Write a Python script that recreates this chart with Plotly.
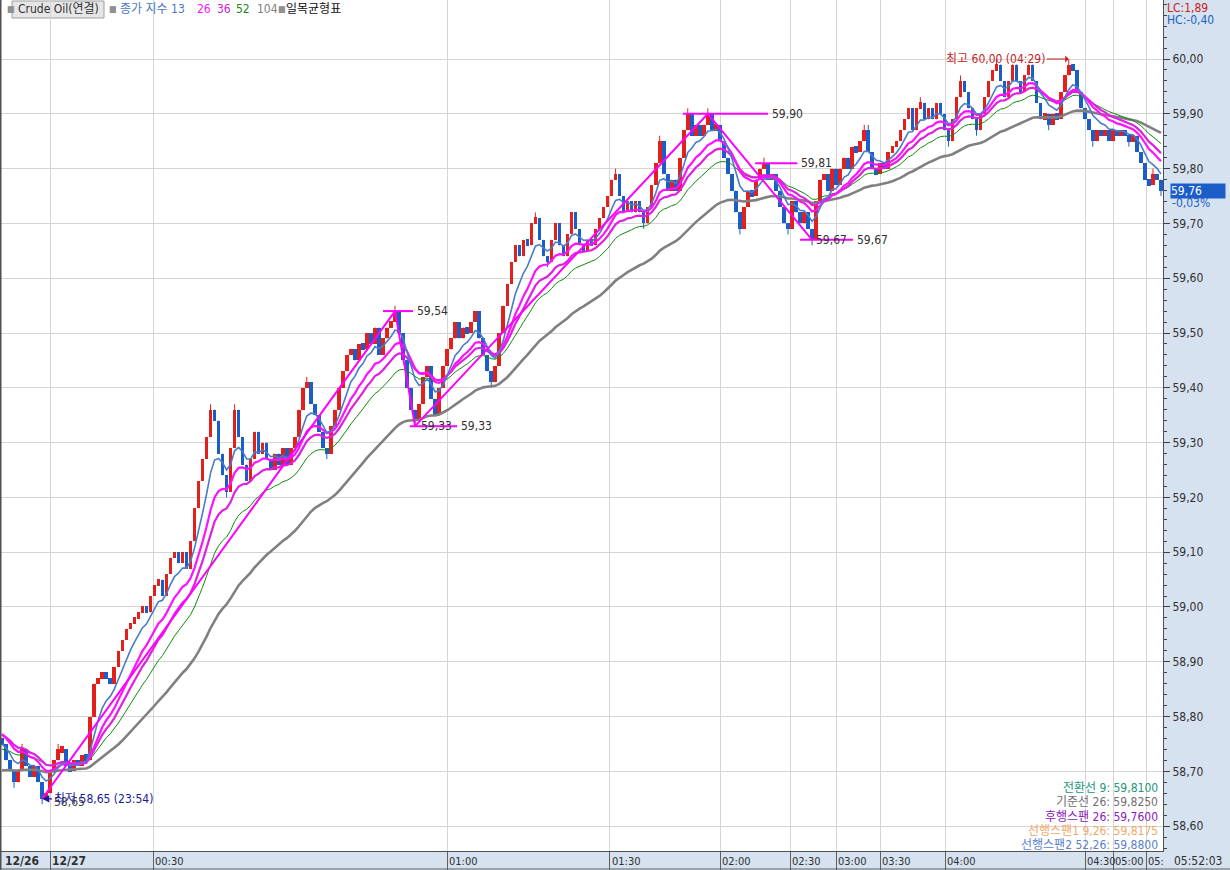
import plotly.graph_objects as go

# ---------------- data ----------------
first_open = 58.76
closes = [
    58.75, 58.72, 58.70, 58.68, 58.70, 58.74, 58.71, 58.69, 58.71, 58.68,
    58.65, 58.66, 58.70, 58.72, 58.74, 58.74, 58.71, 58.70, 58.72, 58.71,
    58.73, 58.72, 58.80, 58.86, 58.87, 58.88, 58.87, 58.86, 58.89, 58.92,
    58.94, 58.96, 58.97, 58.98, 58.99, 59.00, 58.99, 59.02, 59.04, 59.05,
    59.02, 59.06, 59.09, 59.10, 59.08, 59.10, 59.07, 59.12, 59.18, 59.23,
    59.27, 59.31, 59.36, 59.34, 59.28, 59.24, 59.21, 59.29, 59.36, 59.31,
    59.26, 59.23, 59.27, 59.32, 59.28, 59.30, 59.27, 59.25, 59.28, 59.26,
    59.29, 59.26, 59.29, 59.31, 59.36, 59.40, 59.41, 59.37, 59.35, 59.32,
    59.29, 59.28, 59.33, 59.36, 59.40, 59.43, 59.46, 59.47, 59.45, 59.48,
    59.47, 59.50, 59.48, 59.51, 59.46, 59.49, 59.51, 59.52, 59.54, 59.50,
    59.45, 59.40, 59.36, 59.34, 59.37, 59.42, 59.44, 59.38, 59.35, 59.40,
    59.44, 59.47, 59.49, 59.52, 59.49, 59.51, 59.50, 59.52, 59.54, 59.49,
    59.46, 59.43, 59.41, 59.44, 59.50, 59.55, 59.59, 59.63, 59.66, 59.64,
    59.67, 59.66, 59.70, 59.71, 59.67, 59.64, 59.63, 59.67, 59.70, 59.66,
    59.64, 59.68, 59.72, 59.69, 59.66, 59.65, 59.67, 59.66, 59.69, 59.71,
    59.73, 59.75, 59.78, 59.79, 59.75, 59.72, 59.74, 59.72, 59.74, 59.72,
    59.70, 59.73, 59.77, 59.81, 59.85, 59.79, 59.76, 59.78, 59.76, 59.82,
    59.87, 59.90, 59.86, 59.88, 59.86, 59.88, 59.90, 59.87, 59.88, 59.85,
    59.82, 59.79, 59.76, 59.72, 59.69, 59.73, 59.76, 59.75, 59.78, 59.80,
    59.81, 59.78, 59.79, 59.76, 59.73, 59.70, 59.69, 59.74, 59.72, 59.70,
    59.72, 59.69, 59.67, 59.74, 59.78, 59.79, 59.76, 59.80, 59.77, 59.80,
    59.82, 59.80, 59.84, 59.83, 59.85, 59.87, 59.83, 59.80, 59.79, 59.81,
    59.80, 59.83, 59.84, 59.85, 59.87, 59.89, 59.91, 59.87, 59.91, 59.92,
    59.89, 59.91, 59.89, 59.92, 59.90, 59.87, 59.85, 59.89, 59.93, 59.96,
    59.94, 59.91, 59.89, 59.87, 59.90, 59.93, 59.96, 59.98, 59.99, 59.96,
    59.93, 59.96, 59.99, 59.96, 59.94, 59.97, 59.99, 59.96, 59.92, 59.89,
    59.90, 59.88, 59.90, 59.89, 59.94, 59.97, 59.99, 59.98, 59.94, 59.91,
    59.89, 59.87, 59.85, 59.87, 59.86, 59.87, 59.85, 59.87, 59.86, 59.87,
    59.86, 59.85, 59.86, 59.83, 59.81, 59.78, 59.77, 59.79, 59.78, 59.76,
]
high_marks = {5: 58.75, 14: 58.75, 52: 59.37, 58: 59.37, 76: 59.42, 98: 59.55,
              133: 59.72, 153: 59.80, 164: 59.86, 171: 59.91, 176: 59.91,
              190: 59.82, 215: 59.88, 216: 59.88, 229: 59.93, 239: 59.97,
              248: 60.00, 266: 60.00, 287: 59.80}
low_marks = {3: 58.67, 10: 58.64, 56: 59.20, 81: 59.27, 103: 59.33, 122: 59.40,
             136: 59.62, 160: 59.69, 184: 59.68, 196: 59.68, 202: 59.66,
             236: 59.84, 243: 59.86, 261: 59.87, 272: 59.84, 281: 59.84,
             289: 59.75}

ema_labels = ["13", "26", "36", "52", "104"]
# smoothing length measured in the displayed (compressed) candles
ema_spans = [7, 13, 18, 26, 52]
ema_seeds = [58.75, 58.77, 58.77, 58.74, 58.70]
ema_colors = ["#4a7cc8", "#ff10ff", "#e020e0", "#108a10", "#808080"]
ema_widths = [1.6, 2.2, 2.2, 1.0, 2.6]

pivot_bars = [10, 98, 103, 176, 202]
pivot_prices = [58.65, 59.54, 59.33, 59.90, 59.67]

level_prices = [59.54, 59.33, 59.90, 59.81, 59.67]
level_start = [95.0, 101.7, 169.8, 187.8, 199.0]
level_end = [102.5, 113.5, 191.0, 198.3, 212.2]
level_labels = ["59,54", "59,33", "59,90", "59,81", "59,67"]

time_tick_pos = [12.0, 37.7, 111.0, 151.6, 179.1, 196.5, 208.0, 219.0, 235.2, 270.1, 277.1, 285.3]
time_tick_text = ["12/27", "00:30", "01:00", "01:30", "02:00", "02:30", "03:00",
                  "03:30", "04:00", "04:30", "05:00", "05:"]
price_ticks = [58.60, 58.70, 58.80, 58.90, 59.00, 59.10, 59.20, 59.30, 59.40,
               59.50, 59.60, 59.70, 59.80, 59.90, 60.00]

ichimoku_labels = ["전환선 9: 59,8100", "기준선 26: 59,8250", "후행스팬 26: 59,7600",
                   "선행스팬1 9,26: 59,8175", "선행스팬2 52,26: 59,8800"]
ichimoku_colors = ["#20987a", "#707070", "#8a20c0", "#f0a868", "#5a7fd0"]

last_price_text = "59,76"
change_text = "-0,03%"

# ---------------- build candles ----------------
N = len(closes)
opens = [first_open] + closes[:-1]
highs = [high_marks.get(i, max(opens[i], closes[i])) for i in range(N)]
lows = [low_marks.get(i, min(opens[i], closes[i])) for i in range(N)]

UP = "#e3201c"
DOWN = "#1c5ec8"
FONT = "Liberation Sans Narrow, DejaVu Sans Condensed, Noto Sans CJK KR, sans-serif"
MIN_BODY = 0.012

fig = go.Figure()

for direction, col in (("up", UP), ("down", DOWN)):
    idx = [i for i in range(N) if (closes[i] >= opens[i]) == (direction == "up")]
    wx, wy = [], []
    for i in idx:
        wx += [i, i, None]
        wy += [lows[i], highs[i], None]
    fig.add_trace(go.Scatter(x=wx, y=wy, mode="lines", line=dict(color=col, width=1),
                             hoverinfo="skip", showlegend=False))
    bases, heights = [], []
    for i in idx:
        lo, hi = min(opens[i], closes[i]), max(opens[i], closes[i])
        if hi - lo < MIN_BODY:
            mid = (hi + lo) / 2
            lo, hi = mid - MIN_BODY / 2, mid + MIN_BODY / 2
        bases.append(lo)
        heights.append(hi - lo)
    fig.add_trace(go.Bar(x=idx, base=bases, y=heights, width=0.9,
                         marker=dict(color=col, line=dict(width=0)),
                         showlegend=False, hoverinfo="skip"))

# EMAs (slow first so that the fast ones are drawn on top)
ema_traces = []
for lab, span, seed, col, w in zip(ema_labels, ema_spans, ema_seeds, ema_colors, ema_widths):
    a = 2.0 / (span + 1)
    e = seed
    vals = []
    for c in closes:
        e = e + a * (c - e)
        vals.append(e)
    ema_traces.append(go.Scatter(x=list(range(N)), y=vals, mode="lines", name=lab,
                                 line=dict(color=col, width=w), hoverinfo="skip",
                                 showlegend=False))
for tr in reversed(ema_traces):
    fig.add_trace(tr)

# zigzag
fig.add_trace(go.Scatter(x=pivot_bars, y=pivot_prices, mode="lines",
                         line=dict(color="#ff00ff", width=2), hoverinfo="skip",
                         showlegend=False))
# level lines
for lp, s, e in zip(level_prices, level_start, level_end):
    fig.add_trace(go.Scatter(x=[s, e], y=[lp, lp], mode="lines",
                             line=dict(color="#ff00ff", width=2), hoverinfo="skip",
                             showlegend=False))

ann = []
for lp, e, t in zip(level_prices, level_end, level_labels):
    ann.append(dict(x=e, y=lp, xref="x", yref="y", text=t, showarrow=False,
                    xanchor="left", xshift=2, font=dict(size=12, color="#303030")))
# overlapped labels next to the lows
ann.append(dict(x=103, y=59.33, xref="x", yref="y", text="59,33", showarrow=False,
                xanchor="left", xshift=4, font=dict(size=12, color="#303030")))
ann.append(dict(x=202, y=59.67, xref="x", yref="y", text="59,67", showarrow=False,
                xanchor="left", xshift=2, font=dict(size=12, color="#303030")))
ann.append(dict(x=10, y=58.65, xref="x", yref="y", text="58,65", showarrow=False,
                xanchor="left", xshift=10, yshift=-3, font=dict(size=12, color="#404040")))
# low / high markers
ann.append(dict(x=10, y=58.65, xref="x", yref="y", ax=10, ay=0, text="최저 58,65 (23:54)",
                showarrow=True, arrowhead=2, arrowsize=1.2, arrowwidth=1.2,
                arrowcolor="#1a1a9a", xanchor="left",
                font=dict(size=12, color="#1a1a9a")))
ann.append(dict(x=266, y=60.00, xref="x", yref="y", ax=-22, ay=0, text="최고 60,00 (04:29)",
                showarrow=True, arrowhead=1, arrowsize=1.2, arrowwidth=1,
                arrowcolor="#c81e1e", xanchor="right",
                font=dict(size=12, color="#c81e1e")))

# time labels in the bottom strip
ann.append(dict(x=0, y=-10 / 851, xref="paper", yref="paper", text="<b>12/26</b>",
                showarrow=False, xanchor="left", yanchor="middle", xshift=3,
                font=dict(size=12, color="#303030")))
for tp, tt in zip(time_tick_pos, time_tick_text):
    bold = "/" in tt
    txt = "<b>" + tt + "</b>" if bold else tt
    ann.append(dict(x=tp, y=-10 / 851, xref="x", yref="paper", text=txt, showarrow=False,
                    xanchor="left", yanchor="middle", xshift=0,
                    font=dict(size=12 if bold else 11, color="#303030")))
ann.append(dict(x=1172 / 1163, y=-10 / 851, xref="paper", yref="paper", text="05:52:03",
                showarrow=False, xanchor="left", yanchor="middle",
                font=dict(size=12, color="#303030")))

# top left legend
legend_items = [
    (5, "■", "#909090", 9), (16, "Crude Oil(연결)", "#303030", 12), (107, "■", "#909090", 9),
    (118, "종가 지수 13", "#4a78c0", 12), (195, "26", "#ff10ff", 12), (215, "36", "#d020d0", 12),
    (234, "52", "#188a18", 12), (255, "104", "#808080", 12), (276, "■", "#909090", 9),
    (284, "일목균형표", "#101010", 12),
]
for px, t, c, s in legend_items:
    ann.append(dict(x=px / 1163, y=1 - 9 / 851, xref="paper", yref="paper", text=t,
                    showarrow=False, xanchor="left", yanchor="middle",
                    font=dict(size=s, color=c)))

# top right LC / HC
ann.append(dict(x=1165 / 1163, y=1 - 8 / 851, xref="paper", yref="paper", text="LC:1,89",
                showarrow=False, xanchor="left", yanchor="middle", font=dict(size=12, color="#d02020")))
ann.append(dict(x=1165 / 1163, y=1 - 20 / 851, xref="paper", yref="paper", text="HC:-0,40",
                showarrow=False, xanchor="left", yanchor="middle", font=dict(size=12, color="#2060c0")))

# current price tag
ann.append(dict(x=1170 / 1163, y=closes[-1], xref="paper", yref="y", text=last_price_text,
                showarrow=False, xanchor="left", yanchor="middle", width=54, align="left",
                bgcolor="#1c5ec8", font=dict(size=12, color="white"), borderpad=0))
ann.append(dict(x=1170 / 1163, y=closes[-1], xref="paper", yref="y", text=change_text,
                showarrow=False, xanchor="left", yanchor="middle", yshift=-12,
                font=dict(size=12, color="#1c5ec8")))

# ichimoku values bottom right
for k, (t, c) in enumerate(zip(ichimoku_labels, ichimoku_colors)):
    ann.append(dict(x=1160 / 1163, y=1 - (788 + 14 * k) / 851, xref="paper", yref="paper",
                    text=t, showarrow=False, xanchor="right", yanchor="middle",
                    font=dict(size=12, color=c)))

shapes = [
    dict(type="rect", xref="paper", yref="paper", x0=12 / 1163, x1=104 / 1163,
         y0=1 - 18 / 851, y1=1 - 1 / 851, fillcolor="#e6e6e6",
         line=dict(color="#a0a0a0", width=1), layer="below"),
    dict(type="line", xref="paper", yref="paper", x0=0, x1=0, y0=-19 / 851, y1=1,
         line=dict(color="#505050", width=3)),
    dict(type="line", xref="paper", yref="paper", x0=0, x1=1230 / 1163,
         y0=-18 / 851, y1=-18 / 851, line=dict(color="#606060", width=1)),
]

price_text = [("%.2f" % v).replace(".", ",") for v in price_ticks]

fig.update_layout(
    width=1230, height=870,
    margin=dict(l=0, r=67, t=0, b=19),
    paper_bgcolor="#d6e2f0", plot_bgcolor="white",
    barmode="overlay", bargap=0,
    font=dict(family=FONT, size=12, color="#303030"),
    showlegend=False,
    annotations=ann, shapes=shapes,
    xaxis=dict(range=[-0.5, N - 0.5], tickmode="array", tickvals=time_tick_pos,
               showticklabels=False, ticks="outside", ticklen=18, tickcolor="#606060",
               showgrid=True, gridcolor="#d4d4d4", gridwidth=1, zeroline=False,
               showline=True, linecolor="#505050", linewidth=1, fixedrange=True),
    yaxis=dict(side="right", range=[58.5547, 60.1077], tickmode="array",
               tickvals=price_ticks, ticktext=price_text, ticks="outside", ticklen=6,
               tickcolor="#404040", showgrid=True, gridcolor="#d4d4d4", zeroline=False,
               showline=True, linecolor="#505050", linewidth=1,
               tickfont=dict(size=12, color="#303030"),
               minor=dict(tickmode="linear", tick0=58.6, dtick=0.02, ticks="outside",
                          ticklen=3, tickcolor="#404040", showgrid=False)),
)

fig.write_html("out.html", config={"displayModeBar": False},
               post_script="document.body.style.margin='0px';")
